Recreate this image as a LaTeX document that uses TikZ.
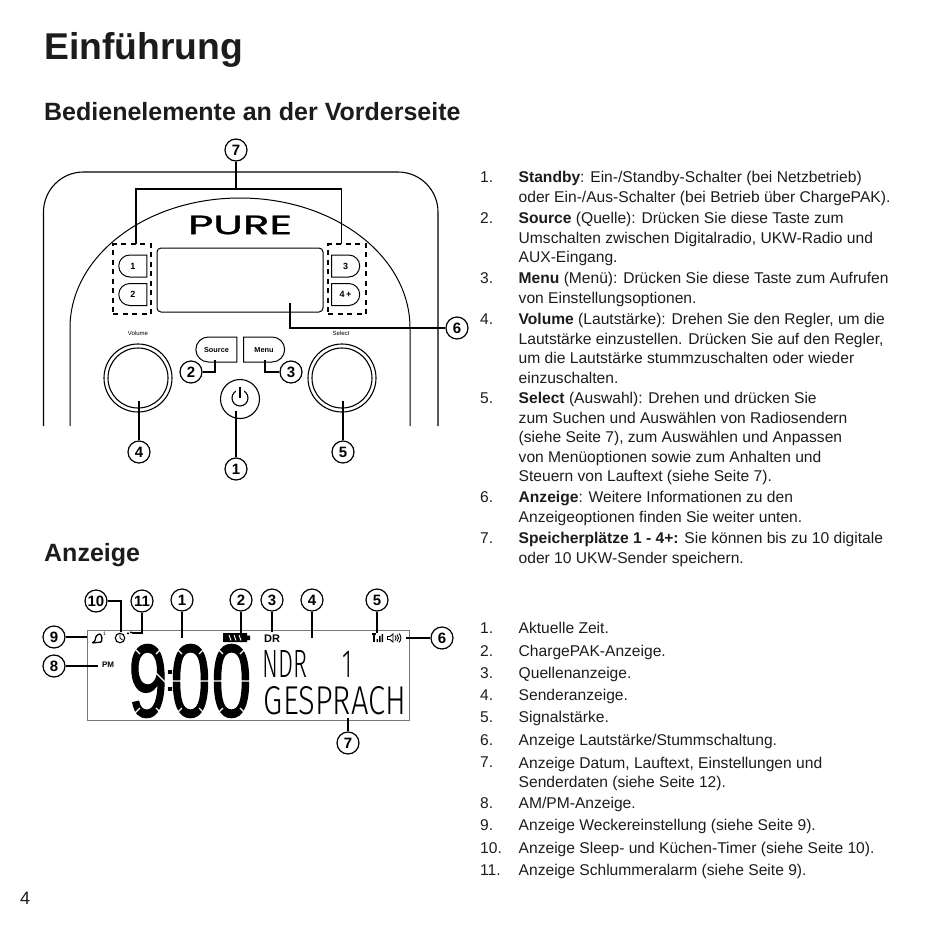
\documentclass[tikz,border=0pt]{standalone}
\usepackage{fontspec}
\usepackage{graphicx}
\setmainfont{Liberation Sans}
\newfontfamily\logofont[FakeBold=1.2]{Poppins}
\newfontfamily\clockfont[FakeBold=1.5]{Liberation Sans}
\newfontfamily\lcdfont[UprightFont={* Light}]{Fira Sans}
\usetikzlibrary{positioning, shapes.misc}
\definecolor{inkdark}{HTML}{1C1C1C}
\definecolor{lcdframe}{HTML}{777777}

% white gaps that split a clock digit into segments
\newcommand{\lcdcorners}[2]{
  \draw[draw=white, line width=1.1pt] (#1-1,644) -- (#1+9,654) (#2+1,644) -- (#2-9,654)
    (#1-1,718) -- (#1+9,708) (#2+1,718) -- (#2-9,708);
}

\begin{document}
\begin{tikzpicture}[
  x=1pt,
  y=-1pt,
  every node/.style={inner sep=0pt, text=inkdark},
  title/.style={anchor=base west, font=\bfseries\fontsize{37.3}{40}\selectfont},
  subtitle/.style={anchor=base west, font=\bfseries\fontsize{25}{28}\selectfont},
  listtext/.style={
    anchor=north west,
    align=left,
    font=\fontsize{15.6}{19.5}\selectfont,
    execute at begin node={\rule{0pt}{12pt}}
  },
  numcirc/.style={
    circle,
    draw=black,
    fill=white,
    line width=1.2pt,
    minimum size=22pt,
    text=black,
    font=\bfseries\fontsize{15}{15}\selectfont
  },
  lead/.style={draw=black, line width=1.7pt},
  thinline/.style={draw=black, line width=1.1pt},
  presetbtn/.style={
    rounded rectangle,
    draw=black,
    line width=1pt,
    minimum width=28pt,
    minimum height=22pt,
    text=black,
    font=\bfseries\fontsize{9}{9}\selectfont
  },
  ctrlbtn/.style={
    rounded rectangle,
    draw=black,
    line width=1pt,
    minimum width=41pt,
    minimum height=25pt,
    text height=5.5pt,
    text depth=0pt,
    text=black,
    font=\bfseries\fontsize{7.3}{8}\selectfont
  },
  presetbox/.style={
    rectangle,
    draw=black,
    line width=1.8pt,
    dash pattern=on 5pt off 4.5pt,
    minimum width=38pt,
    minimum height=70pt
  },
  tiny/.style={text=black, font=\fontsize{6}{6}\selectfont},
  icontext/.style={text=black, font=\bfseries\fontsize{8}{8}\selectfont}
]
\useasboundingbox (0,0) rectangle (950,951);

% ============================================================
% Headings
% ============================================================

\node[title] (einfuehrung) at (44,59.5) {Einführung};
\node[subtitle] (bedien) at (44,120) {Bedienelemente an der Vorderseite};
\node[subtitle] (anzeige) at (44,561) {Anzeige};
\node[anchor=base west, font=\fontsize{18}{20}\selectfont] (pagenum) at (20,904) {4};

% ============================================================
% Front panel
% ============================================================

\draw[thinline, rounded corners=40pt] (43.5,426) -- (43.5,172) -- (438,172) -- (438,426);
\draw[draw=black, line width=1pt] (70,426) -- (70,328) .. controls (70,256) and (146,198) .. (240,198)
  .. controls (334,198) and (410,256) .. (410,328) -- (410,426);

\node[text=black] (logo) at (240,225) {\resizebox{104pt}{18.5pt}{\logofont PURE}};
\node[rectangle, draw=black, line width=1pt, rounded corners=4pt, minimum width=166pt, minimum height=64pt] (display) at (240,280) {};

\node[presetbox] (boxL) at (132,279) {};
\node[presetbox] (boxR) at (347,279) {};

\node[presetbtn, rounded rectangle right arc=none] (pre1) at (133,266) {1};
\node[presetbtn, rounded rectangle right arc=none] (pre2) at (133,294.5) {2};
\node[presetbtn, rounded rectangle left arc=none] (pre3) at (345.5,266) {3};
\node[presetbtn, rounded rectangle left arc=none] (pre4) at (345.5,294.5) {4\,+};

\node[ctrlbtn, rounded rectangle right arc=none] (source) at (216.5,349.5) {Source};
\node[ctrlbtn, rounded rectangle left arc=none] (menu) at (264,349.5) {Menu};

\node[tiny] (vollabel) at (138,333) {Volume};
\node[tiny] (sellabel) at (341,333) {Select};

\node[circle, draw=black, line width=1.1pt, minimum size=68pt] (volouter) at (138,378) {};
\node[circle, draw=black, line width=1.1pt, minimum size=60pt] (volinner) at (138,378) {};
\node[circle, draw=black, line width=1.1pt, minimum size=68pt] (selouter) at (342,378) {};
\node[circle, draw=black, line width=1.1pt, minimum size=60pt] (selinner) at (342,378) {};

\node[circle, draw=black, line width=1.1pt, minimum size=39pt] (power) at (240,399) {};
\node[circle, draw=black, line width=1.1pt, minimum size=16pt] (powerring) at (240,398) {};
\fill[white] (236,388) rectangle (244,394);
\draw[thinline] (240,387) -- (240,398);

% Callouts
\node[numcirc] (top7) at (236,150) {7};
\node[numcirc] (top2) at (191,372) {2};
\node[numcirc] (top3) at (291,372) {3};
\node[numcirc] (top4) at (139,452) {4};
\node[numcirc] (top5) at (343,452) {5};
\node[numcirc] (top1) at (236,469) {1};
\node[numcirc] (top6) at (457,328) {6};

\coordinate (brk7) at (236,189);
\coordinate (brkLt) at (136,189);
\coordinate (brkRt) at (341.5,189);
\coordinate (brkL) at (136,244);
\coordinate (brkR) at (341.5,244);
\coordinate (end2) at (215,360);
\coordinate (end3) at (265,360);
\coordinate (end4) at (139,401);
\coordinate (end5) at (343,401);
\coordinate (end1) at (236,411);
\coordinate (end6) at (290,303);

\draw[lead] (top7) -- (brk7);
\draw[lead] (brkL) -- (brkLt) -- (brkRt) -- (brkR);
\draw[lead] (top2) -| (end2);
\draw[lead] (top3) -| (end3);
\draw[lead] (top4) -- (end4);
\draw[lead] (top5) -- (end5);
\draw[lead] (top1) -- (end1);
\draw[lead] (top6) -| (end6);

% ============================================================
% Display
% ============================================================

\node[rectangle, draw=lcdframe, line width=1pt, minimum width=322pt, minimum height=90pt] (lcd) at (248,675) {};

% Clock digits
\node[text=black] (digA) at (148,681) {\resizebox{39pt}{72pt}{\clockfont 9}};
\node[text=black] (digB) at (190.5,681) {\resizebox{40pt}{72pt}{\clockfont 0}};
\node[text=black] (digC) at (231.5,681) {\resizebox{40pt}{72pt}{\clockfont 0}};
\node[text=black] (colon) at (170,681) {\resizebox{12pt}{21pt}{:}};

% Segment gaps
\lcdcorners{131}{165}
\lcdcorners{173}{208}
\lcdcorners{214}{249}
\draw[draw=white, line width=1.1pt] (172,681) -- (182,681) (199,681) -- (209,681)
  (213,681) -- (223,681) (240,681) -- (250,681) (155,672) -- (167,684);

% Station lines
\node[text=black] (station) at (307.5,663.5) {\resizebox{90pt}{27pt}{\lcdfont NDR\hspace{1.5em}1}};
\node[text=black] (program) at (335,701) {\resizebox{142pt}{28pt}{\lcdfont GESPRACH}};

% Icons
\node[icontext] (pmicon) at (108,665) {PM};
\node[text=black, font=\bfseries\fontsize{11}{11}\selectfont] (dricon) at (272,638.5) {DR};
\draw[draw=black, line width=1.3pt, rounded corners=1pt] (92,643) -- (95,641) -- (96,636) -- (100,633.5) -- (102,637) -- (101.5,642) -- cycle;
\node[text=black, font=\fontsize{5}{5}\selectfont] (bellone) at (104.5,634) {1};
\node[circle, draw=black, line width=1.1pt, minimum size=9.5pt] (clockicon) at (120,638) {};
\draw[draw=black, line width=0.8pt] (120,634.5) -- (120,638) -- (122.5,640);
\fill[black] (127,632.5) rectangle (129,634) (130,631.5) rectangle (132,633);

\fill[black] (223,633) rectangle (247,642) (247,635.5) rectangle (250,640);
\draw[draw=white, line width=0.9pt] (229,635) -- (231,640.5) (234,635) -- (236,640.5) (239,635) -- (241,640.5);

\draw[draw=black, line width=1.2pt] (372,634) -- (375.5,634) (374,634) -- (374,642);
\fill[black] (376.5,639) rectangle (378,642) (379,636) rectangle (380.5,642) (381.5,634) rectangle (383,642);

\draw[draw=black, line width=0.9pt] (387.5,636.5) -- (390,636.5) -- (393,634) -- (393,642) -- (390,639.5) -- (387.5,639.5) -- cycle;
\draw[draw=black, line width=0.9pt] (395,635.5) .. controls (396.5,637) and (396.5,639) .. (395,640.5)
  (397,634.5) .. controls (399,636.5) and (399,639.5) .. (397,641.5)
  (399,633.5) .. controls (401.5,636) and (401.5,640) .. (399,642.5);

% Callouts
\node[numcirc] (lcd10) at (96,601) {10};
\node[numcirc] (lcd11) at (142,601) {11};
\node[numcirc] (lcd1) at (182,600) {1};
\node[numcirc] (lcd2) at (241,600) {2};
\node[numcirc] (lcd3) at (272,600) {3};
\node[numcirc] (lcd4) at (312,600) {4};
\node[numcirc] (lcd5) at (377,600) {5};
\node[numcirc] (lcd6) at (442,638) {6};
\node[numcirc] (lcd7) at (348,743) {7};
\node[numcirc] (lcd8) at (54,666) {8};
\node[numcirc] (lcd9) at (54,637) {9};

\coordinate (tip10) at (121,632);
\coordinate (tip11) at (132,633);
\coordinate (tip1) at (182,638);
\coordinate (tip2) at (241,633);
\coordinate (tip3) at (272,632);
\coordinate (tip4) at (312,638);
\coordinate (tip5) at (377,633);
\coordinate (tip6) at (406,638);
\coordinate (tip7) at (348,718);
\coordinate (tip8) at (98,666);
\coordinate (tip9) at (87,637);

\draw[lead] (lcd10) -| (tip10);
\draw[lead] (lcd11) |- (tip11);
\foreach \tipnum in {1,2,3,4,5,6,7,8,9} {
  \draw[lead] (lcd\tipnum) -- (tip\tipnum);
}

% ============================================================
% Text lists
% ============================================================

\foreach \yy/\dy/\lab/\txt in {
  169/2/1./{\textbf{Standby}: Ein-/Standby-Schalter (bei Netzbetrieb)\\oder Ein-/Aus-Schalter (bei Betrieb über ChargePAK).},
  210/2/2./{\textbf{Source} (Quelle): Drücken Sie diese Taste zum\\Umschalten zwischen Digitalradio, UKW-Radio und\\AUX-Eingang.},
  270/2/3./{\textbf{Menu} (Menü): Drücken Sie diese Taste zum Aufrufen\\von Einstellungsoptionen.},
  311/2/4./{\textbf{Volume} (Lautstärke): Drehen Sie den Regler, um die\\Lautstärke einzustellen. Drücken Sie auf den Regler,\\um die Lautstärke stummzuschalten oder wieder\\einzuschalten.},
  390/2/5./{\textbf{Select} (Auswahl): Drehen und drücken Sie\\zum Suchen und Auswählen von Radiosendern\\(siehe Seite 7), zum Auswählen und Anpassen\\von Menüoptionen sowie zum Anhalten und\\Steuern von Lauftext (siehe Seite 7).},
  489/2/6./{\textbf{Anzeige}: Weitere Informationen zu den\\Anzeigeoptionen finden Sie weiter unten.},
  530/2/7./{\textbf{Speicherplätze 1 - 4+:} Sie können bis zu 10 digitale\\oder 10 UKW-Sender speichern.},
  621.5/0/1./{Aktuelle Zeit.},
  644.5/0/2./{ChargePAK-Anzeige.},
  666.5/0/3./{Quellenanzeige.},
  688.5/0/4./{Senderanzeige.},
  710.5/0/5./{Signalstärke.},
  733.5/0/6./{Anzeige Lautstärke/Stummschaltung.},
  755/1.5/7./{Anzeige Datum, Lauftext, Einstellungen und\\Senderdaten (siehe Seite 12).},
  796.5/0/8./{AM/PM-Anzeige.},
  818.5/0/9./{Anzeige Weckereinstellung (siehe Seite 9).},
  841.5/0/10./{Anzeige Sleep- und Küchen-Timer (siehe Seite 10).},
  863.5/0/11./{Anzeige Schlummeralarm (siehe Seite 9).}
} {
  \node[listtext] (lab\yy) at (480,\yy+\dy/2) {\lab};
  \node[listtext] (txt\yy) at (518.5,\yy+\dy) {\txt};
}

\end{tikzpicture}
\end{document}
